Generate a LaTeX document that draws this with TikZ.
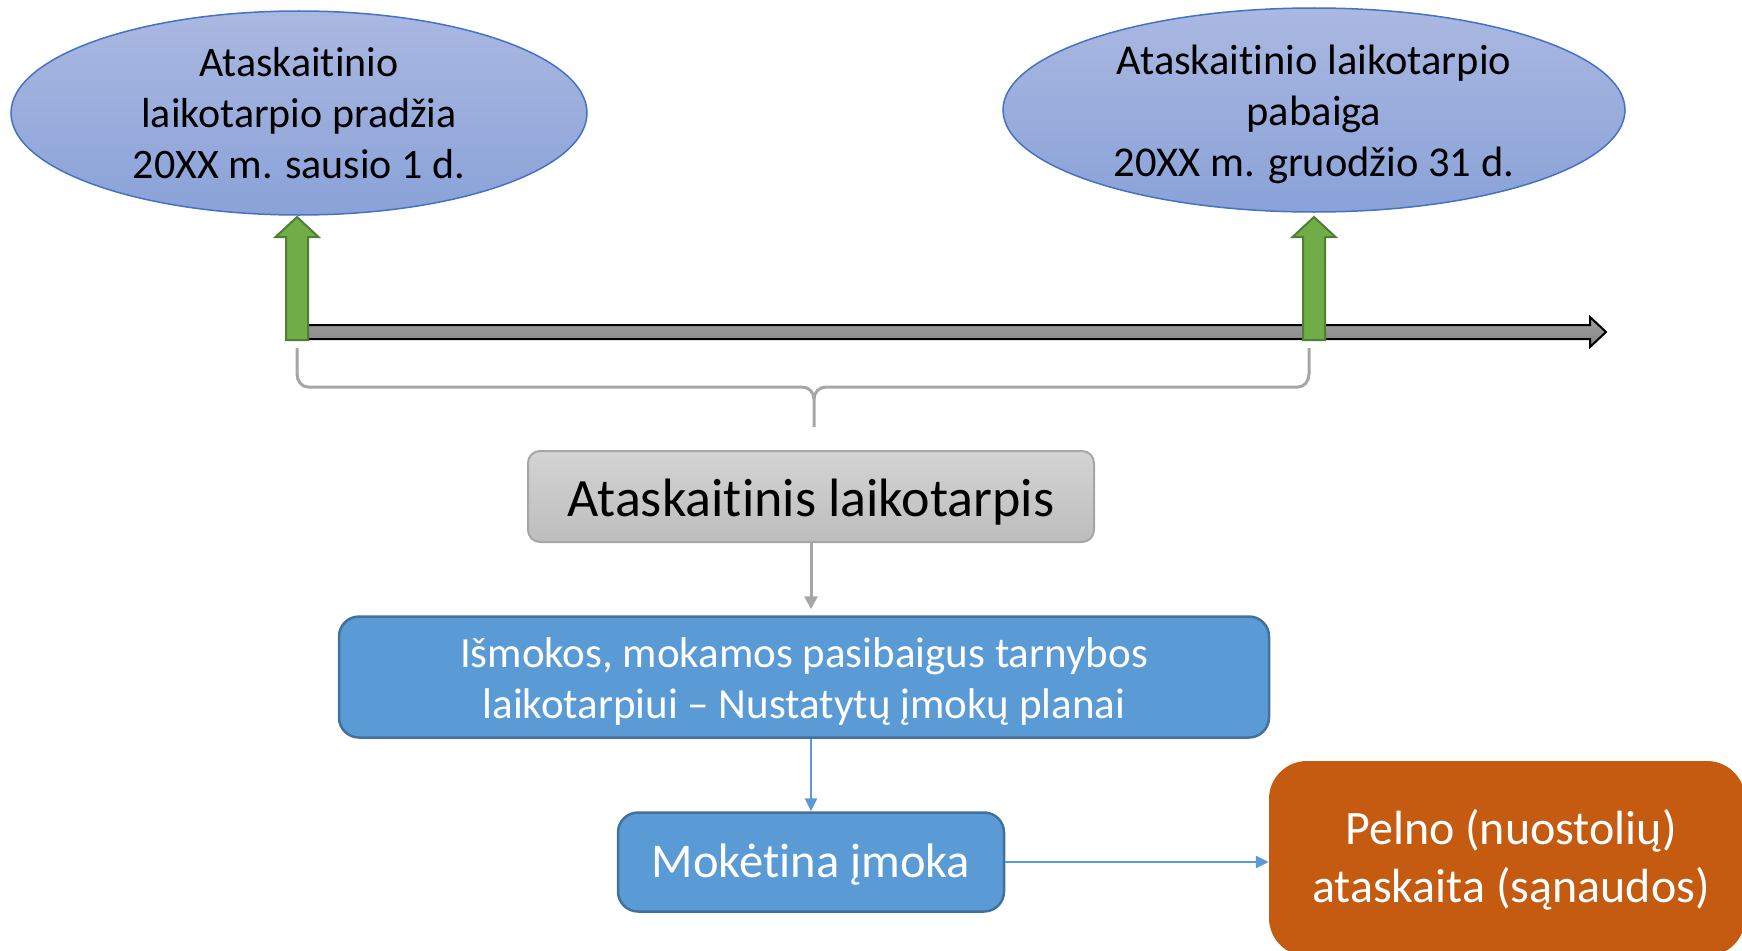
\documentclass[tikz,border=0pt]{standalone}
\usepackage{fontspec}
\setmainfont{Carlito}[Ligatures=NoCommon]
\usetikzlibrary{shapes.geometric,arrows.meta}
\definecolor{ellTop}{HTML}{AAB8E1}
\definecolor{ellBot}{HTML}{8AA2D8}
\definecolor{ellLine}{HTML}{4472C4}
\definecolor{grn}{HTML}{70AD47}
\definecolor{grnLine}{HTML}{507E32}
\definecolor{gryLine}{HTML}{A6A6A6}
\definecolor{gryTop}{HTML}{D4D4D4}
\definecolor{gryBot}{HTML}{BDBDBD}
\definecolor{blu}{HTML}{5B9BD5}
\definecolor{bluLine}{HTML}{41719C}
\definecolor{orn}{HTML}{C55A11}
\definecolor{barTop}{HTML}{A0A0A0}
\definecolor{barBot}{HTML}{858585}
\begin{document}
\begin{tikzpicture}[x=1pt,y=-1pt,
  ellnode/.style={ellipse, draw=ellLine, line width=1.5pt, top color=ellTop, bottom color=ellBot,
    inner sep=0pt, align=center, text=black, font=\fontsize{42pt}{51pt}\selectfont},
  txt/.style={inner sep=0pt, align=center},
  greenarrow/.style={draw=grnLine, fill=grn, line width=2pt, line join=miter},
  bracestyle/.style={draw=gryLine, line width=3pt},
  graybox/.style={rectangle, rounded corners=12pt, draw=gryLine, line width=2pt, top color=gryTop, bottom color=gryBot, inner sep=0pt},
  bluebox/.style={rectangle, rounded corners=20pt, draw=bluLine, line width=2.5pt, fill=blu, inner sep=0pt},
  orangebox/.style={rectangle, rounded corners=38pt, fill=orn, inner sep=0pt},
  grayconn/.style={draw=gryLine, line width=3pt, -{Triangle[width=13pt,length=13pt]}},
  blueconn/.style={draw=blu, line width=2.5pt, -{Triangle[width=12pt,length=13pt]}}
]
\useasboundingbox (0,0) rectangle (1742,950);
\clip (0,0) rectangle (1742,950);

% ellipses
\node[ellnode, minimum width=576pt, minimum height=204pt] (e1) at (299,113)
  {Ataskaitinio\\laikotarpio pradžia\\20XX m. sausio 1 d.};
\node[ellnode, minimum width=622pt, minimum height=204pt] (e2) at (1314,110) {};
\node[txt, font=\fontsize{42.5pt}{51pt}\selectfont] (e2t) at ([yshift=-4.5pt]e2.center)
  {Ataskaitinio laikotarpio\\pabaiga\\20XX m. gruodžio 31 d.};

% timeline bar
\path[draw=black, line width=2pt, top color=barTop, bottom color=barBot, line join=miter]
  (300,325) -- (1590,325) -- (1590,317) -- (1606,332) -- (1590,347) -- (1590,339) -- (300,339) -- cycle;

% green arrows
\draw[greenarrow] (286,340) -- (286,237) -- (275.5,237) -- (297,217) -- (318.5,237) -- (308,237) -- (308,340) -- cycle;
\draw[greenarrow] (1303,340) -- (1303,237) -- (1292.5,237) -- (1314,217) -- (1335.5,237) -- (1325,237) -- (1325,340) -- cycle;

% brace
\coordinate (bl) at (297,348);
\coordinate (br) at (1309,348);
\coordinate (bt) at (814,427);
\draw[bracestyle] (bl) -- (297,374) to[out=-90,in=180] (308,387) -- (802,387) to[out=0,in=90] (814,399) -- (bt);
\draw[bracestyle] (br) -- (1309,374) to[out=-90,in=0] (1298,387) -- (826,387) to[out=180,in=90] (814,399);

% boxes
\node[graybox, minimum width=566pt, minimum height=91pt] (g) at (811,496.5) {};
\node[txt, text=black, font=\fontsize{54pt}{64pt}\selectfont] (gt) at ([yshift=-5.5pt]g.center) {Ataskaitinis laikotarpis};

\node[bluebox, minimum width=930pt, minimum height=121pt] (b1) at (804,677) {};
\node[txt, text=white, font=\fontsize{43pt}{51pt}\selectfont] (b1t) at ([yshift=-4.5pt]b1.center)
  {Išmokos, mokamos pasibaigus tarnybos\\laikotarpiui -- Nustatytų įmokų planai};

\node[bluebox, minimum width=386pt, minimum height=99pt] (b2) at (811,862) {};
\node[txt, text=white, font=\fontsize{48.5pt}{58pt}\selectfont] (b2t) at ([yshift=-3pt]b2.center) {Mokėtina įmoka};

\node[orangebox, minimum width=476pt, minimum height=195pt] (o) at (1507,858.5) {};
\node[txt, text=white, font=\fontsize{48pt}{58pt}\selectfont] (ot) at ([yshift=-4.5pt]1511,855) {Pelno (nuostolių)\\ataskaita (sąnaudos)};

% connectors
\draw[grayconn, shorten >=6pt] (g.south) -- (g.south |- b1.north);
\draw[blueconn] (b1.south -| b2.north) -- (b2.north);
\draw[blueconn] (b2.east) -- (b2.east -| o.west);
\end{tikzpicture}
\end{document}
